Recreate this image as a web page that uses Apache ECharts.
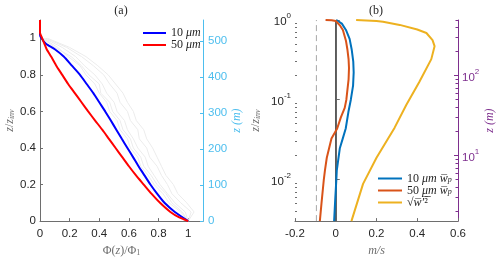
<!DOCTYPE html>
<html>
<head>
<meta charset="utf-8">
<script src="https://cdn.jsdelivr.net/npm/echarts@6/dist/echarts.min.js"></script>
<style>html,body{margin:0;padding:0;background:#fff;}#c{width:500px;height:262px;}</style>
</head>
<body>
<div id="c"></div>
<script>
// ---------- Panel (a) data: [Phi/Phi1, z/zinv] ----------
const blue10a = [[0,1.1],[0,1.02],[0.01,1.0],[0.04,0.97],[0.1,0.94],[0.16,0.9],[0.215,0.85],[0.27,0.8],[0.315,0.75],[0.36,0.7],[0.4,0.65],[0.44,0.6],[0.478,0.55],[0.515,0.5],[0.552,0.45],[0.59,0.4],[0.628,0.35],[0.665,0.3],[0.705,0.25],[0.745,0.2],[0.79,0.15],[0.84,0.1],[0.91,0.05],[1.0,0.0]];
const red50a = [[0,1.1],[0,1.03],[0.015,1.0],[0.03,0.97],[0.045,0.94],[0.075,0.9],[0.11,0.85],[0.15,0.8],[0.19,0.75],[0.235,0.7],[0.28,0.65],[0.325,0.6],[0.372,0.55],[0.42,0.5],[0.465,0.45],[0.51,0.4],[0.555,0.35],[0.6,0.3],[0.648,0.25],[0.7,0.2],[0.752,0.15],[0.81,0.1],[0.88,0.05],[0.94,0.02],[1.0,0.0]];
// light grey individual profiles, sampled at these z/zinv levels
const greyLevels = [1.0,0.95,0.9,0.85,0.8,0.75,0.7,0.65,0.6,0.55,0.5,0.45,0.4,0.35,0.3,0.25,0.2,0.15,0.1,0.05,0.0];
const grey1 = [0.02,0.12,0.19,0.27,0.31,0.37,0.4,0.45,0.47,0.52,0.54,0.59,0.61,0.66,0.68,0.73,0.77,0.83,0.87,0.95,1.0];
const grey2 = [0.03,0.15,0.24,0.3,0.37,0.42,0.45,0.5,0.52,0.57,0.59,0.63,0.66,0.71,0.73,0.77,0.81,0.86,0.91,0.98,1.0];
const grey3 = [0.04,0.18,0.28,0.36,0.43,0.47,0.52,0.54,0.59,0.61,0.66,0.67,0.72,0.74,0.79,0.82,0.86,0.89,0.95,1.02,1.0];
const grey4 = [0.02,0.1,0.21,0.28,0.33,0.4,0.41,0.47,0.49,0.54,0.56,0.61,0.63,0.68,0.7,0.75,0.79,0.85,0.89,0.96,1.0];
const grey5 = [0.05,0.2,0.31,0.39,0.46,0.51,0.56,0.59,0.63,0.65,0.7,0.72,0.76,0.79,0.82,0.85,0.9,0.93,0.99,1.04,1.0];
const ticksA_x = [0,0.2,0.4,0.6,0.8,1];
const ticksA_y = [0,0.2,0.4,0.6,0.8,1];
const ticksA_zm = [0,100,200,300,400,500];

// ---------- Panel (b) data: [m/s, z/zinv] ----------
const blue10b = [[0.003,1],[0.03,0.9],[0.05,0.75],[0.068,0.58],[0.078,0.43],[0.086,0.3],[0.088,0.22],[0.085,0.15],[0.074,0.1],[0.062,0.07],[0.049,0.0435],[0.035,0.033],[0.02,0.0246],[0.01,0.016],[0.005,0.0129],[0.003,0.01],[-0.002,0.006],[-0.008,0.003]];
const orange50b = [[-0.05,1],[-0.02,0.99],[0.0,0.97],[0.02,0.86],[0.035,0.75],[0.05,0.55],[0.057,0.43],[0.063,0.32],[0.065,0.25],[0.063,0.18],[0.052,0.1],[0.044,0.079],[0.025,0.06],[0.007,0.0435],[-0.021,0.0327],[-0.044,0.0187],[-0.053,0.013],[-0.059,0.0097],[-0.07,0.005],[-0.078,0.003]];
const rmsW = [[0.1,1],[0.2,0.97],[0.232,0.953],[0.314,0.868],[0.4,0.76],[0.445,0.687],[0.475,0.56],[0.485,0.47],[0.469,0.323],[0.41,0.167],[0.346,0.086],[0.289,0.0446],[0.2,0.0187],[0.134,0.0088],[0.077,0.003]];
const settling = [[-0.095,0.003],[-0.095,1]];
const zeroLine = [[0,0.003],[0,1]];
const ticksB_y = [0.01,0.1,1];
const minorB_y = [0.003,0.004,0.005,0.006,0.007,0.008,0.009,0.02,0.03,0.04,0.05,0.06,0.07,0.08,0.09,0.2,0.3,0.4,0.5,0.6,0.7,0.8,0.9];
const ticksB_zm = [10,100];
const minorB_zm = [2,3,4,5,6,7,8,9,20,30,40,50,60,70,80,90,200,300,400,500];

const AX = '#6e6e6e', TXT = '#262626', CYAN = '#4DBEEE', PURPLE = '#7E2F8E';
const SANS = 'Liberation Sans, Arial, sans-serif';
const SERIF = 'Liberation Serif, DejaVu Serif, serif';
const lab = (c) => ({color: c, fontFamily: SANS, fontSize: 11.5});
const richMath = {
  i: {fontFamily: SERIF, fontStyle: 'italic', fontSize: 12, lineHeight: 11.5},
  r: {fontFamily: SERIF, fontSize: 12, lineHeight: 11.5},
  s: {fontFamily: SERIF, fontStyle: 'italic', fontSize: 8, verticalAlign: 'bottom', lineHeight: 11.5, padding: [3,0,0,0]}
};
const supRich = {
  b: {fontFamily: SANS, fontSize: 11.5, color: TXT, verticalAlign: 'bottom', lineHeight: 16},
  p: {fontFamily: SANS, fontSize: 8, color: TXT, verticalAlign: 'top', lineHeight: 16},
  bp: {fontFamily: SANS, fontSize: 11.5, color: PURPLE, verticalAlign: 'bottom', lineHeight: 16},
  pp: {fontFamily: SANS, fontSize: 8, color: PURPLE, verticalAlign: 'top', lineHeight: 16}
};
function pow10Label(v, purple) {
  const e = Math.round(Math.log10(v));
  return purple ? '{bp|10}{pp|' + e + '}' : '{b|10}{p|' + e + '}';
}
const greyProfiles = [grey1, grey2, grey3, grey4, grey5];

const series = [];
greyProfiles.forEach(g => series.push({
  type: 'line', xAxisIndex: 0, yAxisIndex: 0, silent: true, showSymbol: false,
  data: g.map((v, i) => [v, greyLevels[i]]),
  lineStyle: {color: '#ececec', width: 1}, z: 1
}));
series.push(
  {name: 'a10', type: 'line', xAxisIndex: 0, yAxisIndex: 0, showSymbol: false, smooth: 0.2, data: blue10a, lineStyle: {color: '#0000ff', width: 2}, itemStyle: {color: '#0000ff'}, z: 3},
  {name: 'a50', type: 'line', xAxisIndex: 0, yAxisIndex: 0, showSymbol: false, smooth: 0.2, data: red50a, lineStyle: {color: '#ff0000', width: 2}, itemStyle: {color: '#ff0000'}, z: 4},
  {type: 'line', xAxisIndex: 1, yAxisIndex: 2, showSymbol: false, silent: true, data: settling, lineStyle: {color: '#a8a8a8', width: 1, type: [6, 4]}},
  {type: 'line', xAxisIndex: 1, yAxisIndex: 2, showSymbol: false, silent: true, data: zeroLine, lineStyle: {color: '#5a5a5a', width: 1.5}},
  {name: 'b10', type: 'line', xAxisIndex: 1, yAxisIndex: 2, showSymbol: false, data: blue10b, lineStyle: {color: '#0072BD', width: 2}, itemStyle: {color: '#0072BD'}, z: 3},
  {name: 'b50', type: 'line', xAxisIndex: 1, yAxisIndex: 2, showSymbol: false, data: orange50b, lineStyle: {color: '#D95319', width: 2}, itemStyle: {color: '#D95319'}, z: 4},
  {name: 'brms', type: 'line', xAxisIndex: 1, yAxisIndex: 2, showSymbol: false, data: rmsW, lineStyle: {color: '#EDB120', width: 2}, itemStyle: {color: '#EDB120'}, z: 3}
);

const legendNames = {
  a10: '{r|10 }{i|μm}', a50: '{r|50 }{i|μm}',
  b10: '{r|10 }{i|μm w\u0305}{s|p}', b50: '{r|50 }{i|μm w\u0305}{s|p}',
  brms: '{r|√}{i|w\u0305′\u0305}{r|²\u0305}'
};

const option = {
  animation: false,
  backgroundColor: '#fff',
  grid: [
    {left: 40, top: 20, width: 163, height: 205},
    {left: 295, top: 20, width: 163, height: 205}
  ],
  graphic: [
    {type: 'text', x: 121, y: 11, style: {text: '(a)', font: '12px ' + SERIF, fill: TXT, textAlign: 'center', textVerticalAlign: 'middle'}},
    {type: 'text', x: 376, y: 11, style: {text: '(b)', font: '12px ' + SERIF, fill: TXT, textAlign: 'center', textVerticalAlign: 'middle'}}
  ],
  legend: [
    {data: ['a10', 'a50'], orient: 'vertical', left: 143, top: 27, padding: 0, itemWidth: 23, itemHeight: 2, itemGap: 0, icon: 'rect',
     formatter: n => legendNames[n], textStyle: {color: TXT, lineHeight: 11.7, rich: richMath}},
    {data: ['b10', 'b50', 'brms'], orient: 'vertical', left: 378, top: 172.5, padding: 0, itemWidth: 24, itemHeight: 2, itemGap: 0, icon: 'rect',
     formatter: n => legendNames[n], textStyle: {color: TXT, lineHeight: 11.7, rich: richMath}}
  ],
  xAxis: [
    {gridIndex: 0, type: 'value', min: 0, max: 1.1,
     axisLine: {lineStyle: {color: AX}}, splitLine: {show: false},
     axisTick: {inside: true, length: 3, lineStyle: {color: AX}, customValues: ticksA_x},
     axisLabel: {...lab(TXT), margin: 7, customValues: ticksA_x},
     name: '{r|Φ(}{i|z}{r|)/Φ}{t|1}', nameLocation: 'middle', nameGap: 19,
     nameTextStyle: {rich: Object.assign({}, richMath, {t: {fontFamily: SERIF, fontSize: 8, verticalAlign: 'bottom', lineHeight: 11.5, padding: [3,0,0,0]}})}},
    {gridIndex: 1, type: 'value', min: -0.2, max: 0.6, interval: 0.2,
     axisLine: {lineStyle: {color: AX}}, splitLine: {show: false},
     axisTick: {inside: true, length: 3, lineStyle: {color: AX}},
     axisLabel: {...lab(TXT), margin: 7},
     name: '{i|m/s}', nameLocation: 'middle', nameGap: 19, nameTextStyle: {rich: richMath}}
  ],
  yAxis: [
    {gridIndex: 0, type: 'value', min: 0, max: 1.1, position: 'left',
     axisLine: {show: true, lineStyle: {color: AX}}, splitLine: {show: false},
     axisTick: {show: true, inside: true, length: 3, lineStyle: {color: AX}, customValues: ticksA_y},
     axisLabel: {...lab(TXT), margin: 4, customValues: ticksA_y},
     name: '{i|z}{r|/}{i|z}{s|inv}', nameLocation: 'middle', nameGap: 24, nameRotate: 90, nameTextStyle: {rich: richMath}},
    {gridIndex: 0, type: 'value', min: 0, max: 558, position: 'right',
     axisLine: {show: true, lineStyle: {color: CYAN}}, splitLine: {show: false},
     axisTick: {show: true, inside: true, length: 3, lineStyle: {color: CYAN}, customValues: ticksA_zm},
     axisLabel: {...lab(CYAN), margin: 5, customValues: ticksA_zm},
     name: '{c|z (}{d|m}{c|)}', nameLocation: 'middle', nameGap: 27, nameRotate: 90,
     nameTextStyle: {rich: {c: {fontFamily: SERIF, fontStyle: 'italic', fontSize: 12, color: CYAN}, d: {fontFamily: SERIF, fontStyle: 'italic', fontSize: 12, color: CYAN}}}},
    {gridIndex: 1, type: 'log', logBase: 10, min: 0.003, max: 1, position: 'left',
     axisLine: {show: true, lineStyle: {color: AX}}, splitLine: {show: false},
     axisTick: {show: true, inside: true, length: 4, lineStyle: {color: AX}, customValues: ticksB_y},
     axisLabel: {margin: 4, customValues: ticksB_y, formatter: v => pow10Label(v, false), rich: supRich},
     name: '{i|z}{r|/}{i|z}{s|inv}', nameLocation: 'middle', nameGap: 33, nameRotate: 90, nameTextStyle: {rich: richMath}},
    {gridIndex: 1, type: 'log', logBase: 10, min: 0.003, max: 1, position: 'left',
     axisLine: {show: false}, splitLine: {show: false}, axisLabel: {show: false},
     axisTick: {show: true, inside: true, length: 2, lineStyle: {color: AX}, customValues: minorB_y}},
    {gridIndex: 1, type: 'log', logBase: 10, min: 1.5, max: 500, position: 'right',
     axisLine: {show: true, lineStyle: {color: PURPLE}}, splitLine: {show: false},
     axisTick: {show: true, inside: true, length: 4, lineStyle: {color: PURPLE}, customValues: ticksB_zm},
     axisLabel: {margin: 4, customValues: ticksB_zm, formatter: v => pow10Label(v, true), rich: supRich},
     name: '{c|z (m)}', nameLocation: 'middle', nameGap: 26, nameRotate: 90,
     nameTextStyle: {rich: {c: {fontFamily: SERIF, fontStyle: 'italic', fontSize: 12, color: PURPLE}}}},
    {gridIndex: 1, type: 'log', logBase: 10, min: 1.5, max: 500, position: 'right',
     axisLine: {show: false}, splitLine: {show: false}, axisLabel: {show: false},
     axisTick: {show: true, inside: true, length: 2.5, lineStyle: {color: PURPLE}, customValues: minorB_zm}}
  ],
  series: series
};
const chart = echarts.init(document.getElementById('c'), null, {renderer: 'canvas'});
chart.setOption(option);
</script>
</body>
</html>
